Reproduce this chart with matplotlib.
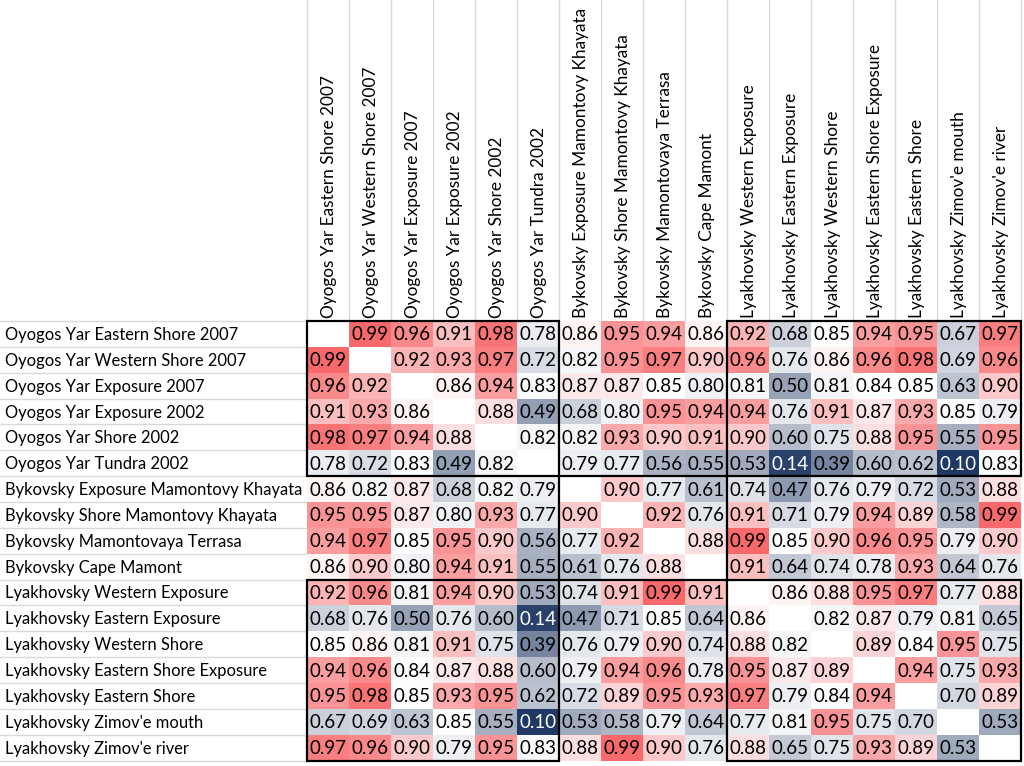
import numpy as np
import matplotlib.pyplot as plt
from matplotlib.colors import LinearSegmentedColormap, TwoSlopeNorm
from matplotlib.patches import Rectangle

plt.rcParams['font.family'] = ['Lato', 'DejaVu Sans']

sites = [
    "Oyogos Yar Eastern Shore 2007",
    "Oyogos Yar Western Shore 2007",
    "Oyogos Yar Exposure 2007",
    "Oyogos Yar Exposure 2002",
    "Oyogos Yar Shore 2002",
    "Oyogos Yar Tundra 2002",
    "Bykovsky Exposure Mamontovy Khayata",
    "Bykovsky Shore Mamontovy Khayata",
    "Bykovsky Mamontovaya Terrasa",
    "Bykovsky Cape Mamont",
    "Lyakhovsky Western Exposure",
    "Lyakhovsky Eastern Exposure",
    "Lyakhovsky Western Shore",
    "Lyakhovsky Eastern Shore Exposure",
    "Lyakhovsky Eastern Shore",
    "Lyakhovsky Zimov'e mouth",
    "Lyakhovsky Zimov'e river",
]

# correlation matrix, diagonal left empty (None)
corr = [
    [None, 0.99, 0.96, 0.91, 0.98, 0.78, 0.86, 0.95, 0.94, 0.86, 0.92, 0.68, 0.85, 0.94, 0.95, 0.67, 0.97],
    [0.99, None, 0.92, 0.93, 0.97, 0.72, 0.82, 0.95, 0.97, 0.90, 0.96, 0.76, 0.86, 0.96, 0.98, 0.69, 0.96],
    [0.96, 0.92, None, 0.86, 0.94, 0.83, 0.87, 0.87, 0.85, 0.80, 0.81, 0.50, 0.81, 0.84, 0.85, 0.63, 0.90],
    [0.91, 0.93, 0.86, None, 0.88, 0.49, 0.68, 0.80, 0.95, 0.94, 0.94, 0.76, 0.91, 0.87, 0.93, 0.85, 0.79],
    [0.98, 0.97, 0.94, 0.88, None, 0.82, 0.82, 0.93, 0.90, 0.91, 0.90, 0.60, 0.75, 0.88, 0.95, 0.55, 0.95],
    [0.78, 0.72, 0.83, 0.49, 0.82, None, 0.79, 0.77, 0.56, 0.55, 0.53, 0.14, 0.39, 0.60, 0.62, 0.10, 0.83],
    [0.86, 0.82, 0.87, 0.68, 0.82, 0.79, None, 0.90, 0.77, 0.61, 0.74, 0.47, 0.76, 0.79, 0.72, 0.53, 0.88],
    [0.95, 0.95, 0.87, 0.80, 0.93, 0.77, 0.90, None, 0.92, 0.76, 0.91, 0.71, 0.79, 0.94, 0.89, 0.58, 0.99],
    [0.94, 0.97, 0.85, 0.95, 0.90, 0.56, 0.77, 0.92, None, 0.88, 0.99, 0.85, 0.90, 0.96, 0.95, 0.79, 0.90],
    [0.86, 0.90, 0.80, 0.94, 0.91, 0.55, 0.61, 0.76, 0.88, None, 0.91, 0.64, 0.74, 0.78, 0.93, 0.64, 0.76],
    [0.92, 0.96, 0.81, 0.94, 0.90, 0.53, 0.74, 0.91, 0.99, 0.91, None, 0.86, 0.88, 0.95, 0.97, 0.77, 0.88],
    [0.68, 0.76, 0.50, 0.76, 0.60, 0.14, 0.47, 0.71, 0.85, 0.64, 0.86, None, 0.82, 0.87, 0.79, 0.81, 0.65],
    [0.85, 0.86, 0.81, 0.91, 0.75, 0.39, 0.76, 0.79, 0.90, 0.74, 0.88, 0.82, None, 0.89, 0.84, 0.95, 0.75],
    [0.94, 0.96, 0.84, 0.87, 0.88, 0.60, 0.79, 0.94, 0.96, 0.78, 0.95, 0.87, 0.89, None, 0.94, 0.75, 0.93],
    [0.95, 0.98, 0.85, 0.93, 0.95, 0.62, 0.72, 0.89, 0.95, 0.93, 0.97, 0.79, 0.84, 0.94, None, 0.70, 0.89],
    [0.67, 0.69, 0.63, 0.85, 0.55, 0.10, 0.53, 0.58, 0.79, 0.64, 0.77, 0.81, 0.95, 0.75, 0.70, None, 0.53],
    [0.97, 0.96, 0.90, 0.79, 0.95, 0.83, 0.88, 0.99, 0.90, 0.76, 0.88, 0.65, 0.75, 0.93, 0.89, 0.53, None],
]

# site groups (start, end) and which group pairs get a black frame
groups = [(0, 6), (6, 10), (10, 17)]
framed = [(0, 0), (0, 2), (1, 1), (2, 0), (2, 2)]

M = np.array([[np.nan if v is None else v for v in row] for row in corr])
n = len(sites)

cmap = LinearSegmentedColormap.from_list("excel3", ["#203864", "#FFFFFF", "#F8696B"])
norm = TwoSlopeNorm(vmin=0.10, vcenter=0.85, vmax=0.99)

W, H = 1024, 766
fig = plt.figure(figsize=(W / 100, H / 100), dpi=100)
x0, x1 = 307, 1021
y0, y1 = 321, 760.5
ax = fig.add_axes([x0 / W, 1 - y1 / H, (x1 - x0) / W, (y1 - y0) / H])

ax.pcolormesh(np.arange(n + 1) - 0.5, np.arange(n + 1) - 0.5, np.ma.masked_invalid(M),
              cmap=cmap, norm=norm)
ax.set_xlim(-0.5, n - 0.5)
ax.set_ylim(n - 0.5, -0.5)
ax.axis('off')

cw = (x1 - x0) / n
ch = (y1 - y0) / n
left_ext = -0.5 - x0 / cw
top_ext = -0.5 - y0 / ch

grid = "#D9D9D9"
# gridlines in label area and header area
for r in range(n + 1):
    ax.plot([left_ext, -0.5], [r - 0.5, r - 0.5], color=grid, lw=1, clip_on=False, zorder=0)
for c in range(n + 1):
    ax.plot([c - 0.5, c - 0.5], [top_ext, -0.5], color=grid, lw=1, clip_on=False, zorder=0)

for i in range(n):
    for j in range(n):
        if np.isnan(M[i, j]):
            continue
        col = "white" if M[i, j] < 0.3 else "black"
        ax.text(j, i + 0.04, f"{M[i, j]:.2f}", ha="center", va="center",
                fontsize=13.5, color=col)

for i, name in enumerate(sites):
    ax.text(left_ext + 0.12, i + 0.04, name, ha="left", va="center", fontsize=11.9,
            clip_on=False)
    ax.text(i + 0.03, -0.62, name, ha="center", va="bottom", rotation=90,
            fontsize=12.4, clip_on=False)

for gi, gj in framed:
    r0, r1 = groups[gi]
    c0, c1 = groups[gj]
    ax.add_patch(Rectangle((c0 - 0.5, r0 - 0.5), c1 - c0, r1 - r0, fill=False,
                           ec="black", lw=1.6, clip_on=False, zorder=5))

fig.savefig("out.png", dpi=100)
